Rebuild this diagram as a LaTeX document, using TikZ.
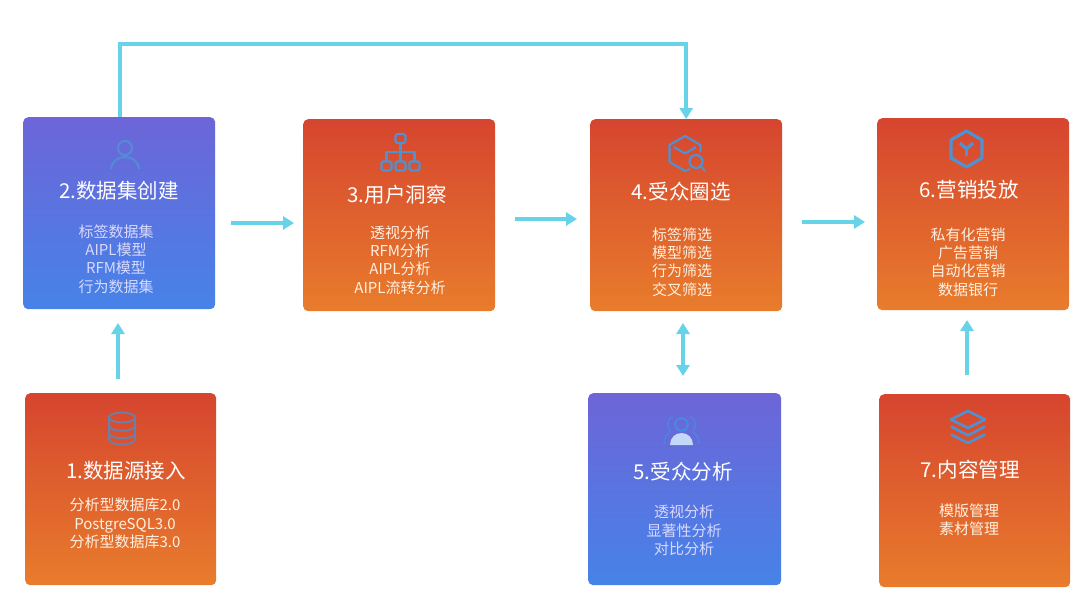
\documentclass[tikz,border=0pt]{standalone}
\usepackage{fontspec}
\setmainfont{Noto Sans CJK SC}
\usetikzlibrary{arrows.meta,calc}
\definecolor{redtop}{RGB}{214,69,47}
\definecolor{orangebot}{RGB}{232,124,44}
\definecolor{bluetop}{RGB}{109,101,216}
\definecolor{bluebot}{RGB}{70,131,232}
\definecolor{conncol}{RGB}{103,211,232}
\definecolor{iconcol}{RGB}{78,146,212}
\definecolor{iconblue}{RGB}{70,140,222}
\definecolor{dbcol}{RGB}{112,126,165}
\definecolor{lightbody}{RGB}{196,216,247}
\tikzset{
  x=1pt,y=-1pt,
  cardbase/.style={rounded corners=5pt,minimum width=192pt,minimum height=192pt,inner sep=0pt,anchor=north west},
  redcard/.style={cardbase,top color=redtop,bottom color=orangebot},
  bluecard/.style={cardbase,top color=bluetop,bottom color=bluebot},
  cardtitle/.style={text=white,font=\fontsize{20.5}{24}\selectfont,inner sep=0pt},
  cardbody/.style={text=white!88!orange,font=\fontsize{15}{18.4}\selectfont,align=center,inner sep=0pt},
  bluebody/.style={cardbody,text=white!85!blue},
  conn/.style={draw=conncol,line width=3.8pt,-{Triangle[length=11pt,width=13pt]}},
  connboth/.style={draw=conncol,line width=3.8pt,{Triangle[length=11pt,width=13pt]}-{Triangle[length=11pt,width=13pt]}},
  icon/.style={draw=iconcol,line width=2.1pt,line join=round},
}
\begin{document}
\begin{tikzpicture}
\path[fill=white] (0,0) rectangle (1080,608);
\useasboundingbox (0,0) rectangle (1080,608);

% cards
\node[bluecard] (b2) at (23,117) {};
\node[redcard]  (b3) at (303,119) {};
\node[redcard]  (b4) at (590,119) {};
\node[redcard]  (b6) at (877,118) {};
\node[redcard,minimum width=191pt]  (b1) at (25,393) {};
\node[bluecard,minimum width=193pt] (b5) at (588,393) {};
\node[redcard,minimum width=191pt,minimum height=193pt]  (b7) at (879,394) {};

% titles
\node[cardtitle] (t2) at (119,191) {2.数据集创建};
\node[cardtitle] (t3) at (397,195) {3.用户洞察};
\node[cardtitle] (t4) at (681,192) {4.受众圈选};
\node[cardtitle] (t6) at (969,190) {6.营销投放};
\node[cardtitle] (t1) at (126,471) {1.数据源接入};
\node[cardtitle] (t5) at (683,472) {5.受众分析};
\node[cardtitle] (t7) at (970,470) {7.内容管理};

% lists
\node[bluebody] (l2) at (116,259) {标签数据集\\AIPL模型\\RFM模型\\行为数据集};
\node[cardbody] (l3) at (400,260) {透视分析\\RFM分析\\AIPL分析\\AIPL流转分析};
\node[cardbody] (l4) at (682,262) {标签筛选\\模型筛选\\行为筛选\\交叉筛选};
\node[cardbody] (l6) at (968,262) {私有化营销\\广告营销\\自动化营销\\数据银行};
\node[cardbody] (l1) at (125,523.5) {分析型数据库2.0\\PostgreSQL3.0\\分析型数据库3.0};
\node[bluebody] (l5) at (684,530.5) {透视分析\\显著性分析\\对比分析};
\node[cardbody] (l7) at (969,520) {模版管理\\素材管理};

% connector anchors
\coordinate (c12s) at (118,379); \coordinate (c12e) at (118,323);
\coordinate (c23s) at (231,223); \coordinate (c23e) at (294,223);
\coordinate (c34s) at (515,219); \coordinate (c34e) at (577,219);
\coordinate (c46s) at (802,222); \coordinate (c46e) at (865,222);
\coordinate (c45s) at (683,323); \coordinate (c45e) at (683,376);
\coordinate (c76s) at (967,375); \coordinate (c76e) at (967,320);
\coordinate (ctop) at (120,44);

\draw[conn] (ctop |- b2.north) -- (ctop) -| (b4.north);
\draw[conn] (c12s) -- (c12e);
\draw[conn] (c23s) -- (c23e);
\draw[conn] (c34s) -- (c34e);
\draw[conn] (c46s) -- (c46e);
\draw[connboth] (c45s) -- (c45e);
\draw[conn] (c76s) -- (c76e);

% icon: user (2)
\draw[icon,draw=iconcol!85!bluetop] (125,148) circle (7);
\draw[icon,draw=iconcol!85!bluetop] (111,169) .. controls (112,161) and (118,157) .. (125,157) .. controls (132,157) and (138,161) .. (139,169);

% icon: org chart (3)
\foreach \cx/\cy in {400.5/138.5,386.5/166,400.5/166,414.5/166}
  \draw[icon,rounded corners=1.5pt] (\cx-5,\cy-4.5) rectangle (\cx+5,\cy+4.5);
\draw[icon] (400.5,143) -- (400.5,161.5);
\draw[icon] (386.5,161.5) -- (386.5,152) -- (414.5,152) -- (414.5,161.5);

% icon: cube with lens (4)
\draw[icon] (690,169) -- (685,171) -- (669.5,162) -- (669.5,145) -- (685,136) -- (700.5,145) -- (700.5,152);
\draw[icon] (674,147) -- (685,153.5) -- (696,147);
\draw[icon] (696,161.5) circle (6.5);
\draw[icon,line cap=round] (701,166.5) -- (705,171);

% icon: group (5)
\draw[icon,draw=iconblue,line width=2pt] (681.5,424.5) circle (6.3);
\draw[icon,draw=iconblue!70!bluetop,line width=1.8pt] (673,417) .. controls (667,418) and (666,426) .. (670,431);
\draw[icon,draw=iconblue!70!bluetop,line width=1.8pt] (690,417) .. controls (696,418) and (697,426) .. (693,431);
\draw[icon,draw=iconblue!70!bluetop,line width=1.8pt] (664,444) .. controls (664,438) and (667,434) .. (670,432);
\draw[icon,draw=iconblue!70!bluetop,line width=1.8pt] (699,444) .. controls (699,438) and (696,434) .. (693,432);
\fill[lightbody] (670,445) .. controls (670,438) and (675,433) .. (681.5,433) .. controls (688,433) and (693,438) .. (693,445) -- cycle;

% icon: hexagon Y (6)
\draw[icon,line width=3.2pt] (966.5,131) -- (982,140) -- (982,158) -- (966.5,167) -- (951,158) -- (951,140) -- cycle;
\draw[icon,line width=3.4pt] (960,143) -- (966.5,149) -- (973,143);
\draw[icon,line width=3.4pt] (966.5,149) -- (966.5,156);

% icon: layers (7)
\draw[icon,line width=2.6pt] (968,411) -- (985,419.5) -- (968,428) -- (951,419.5) -- cycle;
\draw[icon,line width=2.6pt] (951,426.5) -- (968,435.5) -- (985,426.5);
\draw[icon,line width=2.6pt] (951,434.5) -- (968,443) -- (985,434.5);

% icon: database (1)
\draw[icon,draw=dbcol,line width=2pt] (122,417.5) ellipse (13 and 5);
\draw[icon,draw=dbcol,line width=2pt] (109,417.5) -- (109,439) .. controls (109,446.5) and (135,446.5) .. (135,439) -- (135,417.5);
\draw[icon,draw=dbcol,line width=2pt] (109,425.5) .. controls (109,432.5) and (135,432.5) .. (135,425.5);
\draw[icon,draw=dbcol,line width=2pt] (109,433) .. controls (109,440) and (135,440) .. (135,433);
\end{tikzpicture}
\end{document}
